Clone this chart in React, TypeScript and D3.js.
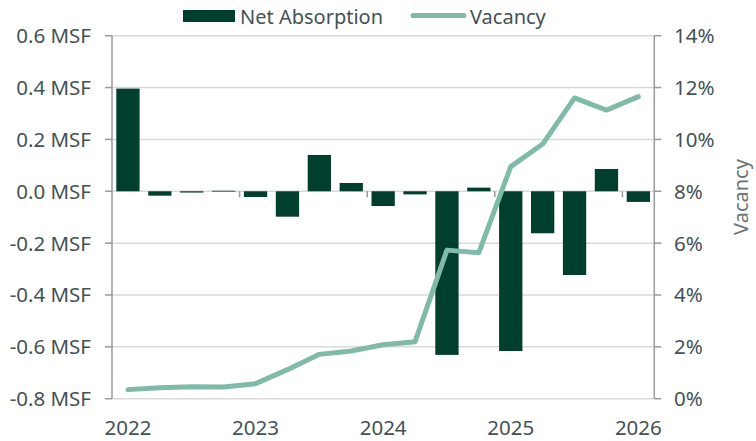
import React, { useEffect, useRef } from "react";
import * as d3 from "d3";

const quarters = [
  "2022Q1","2022Q2","2022Q3","2022Q4",
  "2023Q1","2023Q2","2023Q3","2023Q4",
  "2024Q1","2024Q2","2024Q3","2024Q4",
  "2025Q1","2025Q2","2025Q3","2025Q4",
  "2026Q1",
];
const netAbsorption = [
  0.396, -0.017, -0.005, 0.002,
  -0.022, -0.098, 0.14, 0.032,
  -0.057, -0.012, -0.631, 0.014,
  -0.616, -0.162, -0.323, 0.086,
  -0.041,
];
const vacancy = [
  0.35, 0.42, 0.46, 0.45,
  0.58, 1.12, 1.71, 1.84,
  2.08, 2.2, 5.73, 5.63,
  8.95, 9.82, 11.6, 11.13,
  11.65,
];
const leftTicks = [0.6, 0.4, 0.2, 0.0, -0.2, -0.4, -0.6, -0.8];
const rightTicks = [14, 12, 10, 8, 6, 4, 2, 0];
const yearLabels = ["2022", "2023", "2024", "2025", "2026"];

const W = 756, H = 441;
const FONT = "'Noto Sans', sans-serif";
const TEXT = "#435254";
const BAR = "#003f2d";
const LINE = "#80bbaa";
const GRID = "#d9d9d9";
const AXIS = "#9a9a9a";
const FS = 20.5;

export default function App() {
  const ref = useRef<SVGSVGElement>(null);
  useEffect(() => {
    const svg = d3.select(ref.current);
    svg.selectAll("*").remove();
    const x0 = 112, x1 = 654.3, yTop = 35.7, yBot = 398.7;
    const x = d3.scaleBand<string>().domain(quarters).range([x0, x1]).paddingInner(0.27).paddingOuter(0.135);
    const yL = d3.scaleLinear().domain([-0.8, 0.6]).range([yBot, yTop]);
    const yR = d3.scaleLinear().domain([0, 14]).range([yBot, yTop]);
    const step = x.step();
    const fmt = (d: number) => d.toFixed(1).replace("\u2212", "-");

    // gridlines
    svg.append("g").selectAll("line").data(leftTicks).join("line")
      .attr("x1", x0).attr("x2", x1)
      .attr("y1", d => yL(d)).attr("y2", d => yL(d))
      .attr("stroke", GRID).attr("stroke-width", 1.5);

    // bars
    svg.append("g").selectAll("rect").data(quarters).join("rect")
      .attr("x", d => x(d)!)
      .attr("width", x.bandwidth())
      .attr("y", (d, i) => yL(Math.max(0, netAbsorption[i])))
      .attr("height", (d, i) => Math.max(0.8, Math.abs(yL(netAbsorption[i]) - yL(0))))
      .attr("fill", BAR);

    // category ticks at zero line
    const tickIdx = [4, 8, 12, 16];
    svg.append("g").selectAll("line").data(tickIdx).join("line")
      .attr("x1", d => x0 + d * step).attr("x2", d => x0 + d * step)
      .attr("y1", yL(0)).attr("y2", yL(0) + 6)
      .attr("stroke", AXIS).attr("stroke-width", 1.5);

    // vacancy line
    const line = d3.line<number>()
      .x((d, i) => x(quarters[i])! + x.bandwidth() / 2)
      .y(d => yR(d));
    svg.append("path").datum(vacancy).attr("d", line)
      .attr("fill", "none").attr("stroke", LINE).attr("stroke-width", 5)
      .attr("stroke-linejoin", "round").attr("stroke-linecap", "round");

    // left axis
    svg.append("line").attr("x1", x0).attr("x2", x0).attr("y1", yTop).attr("y2", yBot)
      .attr("stroke", AXIS).attr("stroke-width", 1.5);
    svg.append("g").selectAll("line").data(leftTicks).join("line")
      .attr("x1", x0 - 7).attr("x2", x0).attr("y1", d => yL(d)).attr("y2", d => yL(d))
      .attr("stroke", AXIS).attr("stroke-width", 1.5);
    svg.append("g").selectAll("text").data(leftTicks).join("text")
      .attr("x", 91).attr("y", d => yL(d)).attr("dy", "0.36em")
      .attr("text-anchor", "end").attr("fill", TEXT)
      .attr("font-family", FONT).attr("font-size", FS)
      .text(d => `${fmt(d)} MSF`);

    // right axis
    svg.append("line").attr("x1", x1).attr("x2", x1).attr("y1", yTop).attr("y2", yBot)
      .attr("stroke", AXIS).attr("stroke-width", 1.5);
    svg.append("g").selectAll("line").data(rightTicks).join("line")
      .attr("x1", x1).attr("x2", x1 + 7).attr("y1", d => yR(d)).attr("y2", d => yR(d))
      .attr("stroke", AXIS).attr("stroke-width", 1.5);
    svg.append("g").selectAll("text").data(rightTicks).join("text")
      .attr("x", 674).attr("y", d => yR(d)).attr("dy", "0.36em")
      .attr("text-anchor", "start").attr("fill", TEXT)
      .attr("font-family", FONT).attr("font-size", FS)
      .text(d => `${d}%`);

    // x labels
    svg.append("g").selectAll("text").data(yearLabels).join("text")
      .attr("x", (d, i) => x(quarters[i * 4])! + x.bandwidth() / 2)
      .attr("y", 435)
      .attr("text-anchor", "middle").attr("fill", TEXT)
      .attr("font-family", FONT).attr("font-size", FS)
      .text(d => d);

    // right axis title
    svg.append("text")
      .attr("transform", `translate(748,197) rotate(-90)`)
      .attr("text-anchor", "middle").attr("fill", "#6a7576")
      .attr("font-family", FONT).attr("font-size", 20)
      .text("Vacancy");

    // legend
    const lg = svg.append("g");
    lg.append("rect").attr("x", 183).attr("y", 10).attr("width", 52).attr("height", 12).attr("fill", BAR);
    lg.append("text").attr("x", 240).attr("y", 23.5).attr("fill", TEXT)
      .attr("font-family", FONT).attr("font-size", 20).text("Net Absorption");
    lg.append("line").attr("x1", 413).attr("x2", 464).attr("y1", 15.5).attr("y2", 15.5)
      .attr("stroke", LINE).attr("stroke-width", 5).attr("stroke-linecap", "round");
    lg.append("text").attr("x", 470).attr("y", 23.5).attr("fill", TEXT)
      .attr("font-family", FONT).attr("font-size", 20).text("Vacancy");
  }, []);
  return (
    <div style={{ position: "absolute", left: 0, top: 0 }}>
      <svg ref={ref} width={W} height={H} style={{ display: "block", background: "#fff" }} />
    </div>
  );
}
